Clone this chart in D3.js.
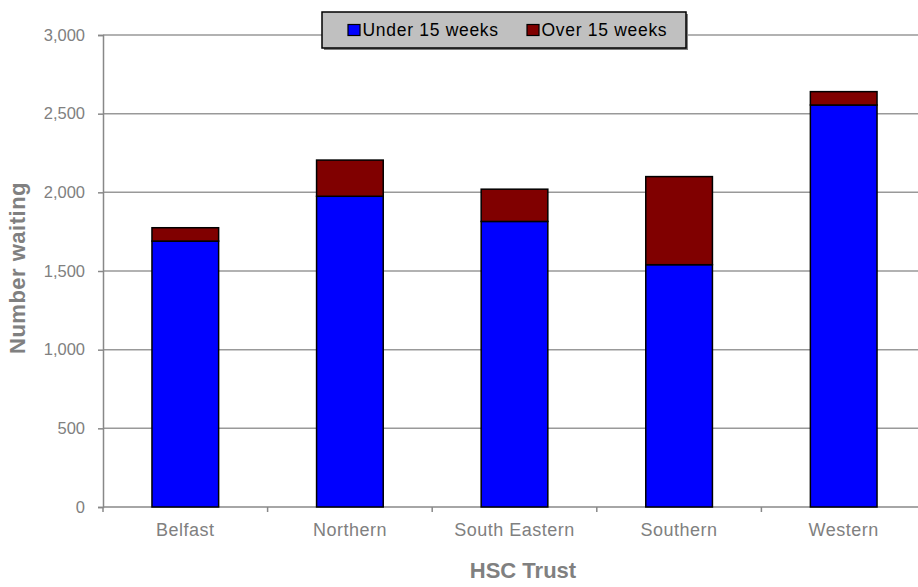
<!DOCTYPE html>
<html><head><meta charset="utf-8">
<script src="https://cdn.jsdelivr.net/npm/d3@7"></script>
<style>body{margin:0;background:#fff}svg{display:block}</style>
</head><body>
<script>
const categories = ["Belfast","Northern","South Eastern","Southern","Western"];
const under15 = [1690, 1975, 1815, 1540, 2555];
const over15 = [85, 230, 205, 560, 85];
const yTicks = [0,500,1000,1500,2000,2500,3000];
const seriesNames = ["Under 15 weeks","Over 15 weeks"];
const seriesColors = ["#0000ff","#800000"];

const W=918,H=587;
const svg=d3.select("body").append("svg").attr("width",W).attr("height",H)
  .style("font-family","'Liberation Sans', Arial, sans-serif");
const x=d3.scaleBand().domain(categories).range([103,926]).paddingInner(0.595).paddingOuter(0.2975);
const y=d3.scaleLinear().domain([0,3000]).range([507,35]);

// gridlines
svg.append("g").selectAll("line").data(yTicks.filter(d=>d>0)).join("line")
  .attr("x1",103).attr("x2",926).attr("y1",d=>y(d)).attr("y2",d=>y(d))
  .attr("stroke","#999").attr("stroke-width",1.5);

// y axis
const ya=svg.append("g").attr("transform","translate(103,0)")
  .call(d3.axisLeft(y).tickValues(yTicks).tickFormat(d3.format(",")).tickSize(5).tickPadding(13));
ya.select(".domain").attr("stroke","#888").attr("stroke-width",1.5);
ya.selectAll(".tick line").attr("stroke","#888").attr("stroke-width",1.5);
ya.selectAll("text").attr("fill","#808080").style("font-size","16.5px");

// x axis
const xa=svg.append("g").attr("transform","translate(0,507)")
  .call(d3.axisBottom(x).tickSize(0).tickPadding(16));
xa.select(".domain").remove();
svg.append("line").attr("x1",103).attr("x2",926).attr("y1",507).attr("y2",507).attr("stroke","#888").attr("stroke-width",1.5);
const bw=(926-103)/categories.length;
svg.append("g").selectAll("line").data(d3.range(categories.length+1)).join("line")
  .attr("x1",i=>103+i*bw).attr("x2",i=>103+i*bw).attr("y1",507).attr("y2",512)
  .attr("stroke","#888").attr("stroke-width",1.5);
xa.selectAll("text").attr("fill","#808080").style("font-size","18px").style("letter-spacing","0.5px");

// bars
const stacked=categories.map((c,i)=>({c,u:under15[i],o:over15[i]}));
const g=svg.append("g");
g.selectAll(".u").data(stacked).join("rect")
  .attr("x",d=>x(d.c)).attr("width",x.bandwidth())
  .attr("y",d=>y(d.u)).attr("height",d=>y(0)-y(d.u))
  .attr("fill",seriesColors[0]).attr("stroke","#000").attr("stroke-width",1.5);
g.selectAll(".o").data(stacked).join("rect")
  .attr("x",d=>x(d.c)).attr("width",x.bandwidth())
  .attr("y",d=>y(d.u+d.o)).attr("height",d=>y(d.u)-y(d.u+d.o))
  .attr("fill",seriesColors[1]).attr("stroke","#000").attr("stroke-width",1.5);

// axis titles
svg.append("text").attr("transform","translate(25,268) rotate(-90)").attr("text-anchor","middle")
  .attr("fill","#808080").style("font-size","22px").style("font-weight","bold").style("letter-spacing","0.5px").text("Number waiting");
svg.append("text").attr("x",523).attr("y",578).attr("text-anchor","middle")
  .attr("fill","#808080").style("font-size","22px").style("font-weight","bold").text("HSC Trust");

// legend
const lg=svg.append("g");
lg.append("rect").attr("x",324).attr("y",14).attr("width",364).attr("height",36).attr("fill","#808080");
lg.append("rect").attr("x",322).attr("y",12).attr("width",364).attr("height",36)
  .attr("fill","#c0c0c0").attr("stroke","#000").attr("stroke-width",1.5);
const lx=[348,527];
seriesNames.forEach((n,i)=>{
  lg.append("rect").attr("x",lx[i]).attr("y",24.5).attr("width",12).attr("height",11)
    .attr("fill",seriesColors[i]).attr("stroke","#000").attr("stroke-width",1.2);
  lg.append("text").attr("x",lx[i]+14.5).attr("y",36).attr("fill","#000")
    .style("font-size","17.5px").style("letter-spacing","0.7px").text(n);
});
</script>
</body></html>
